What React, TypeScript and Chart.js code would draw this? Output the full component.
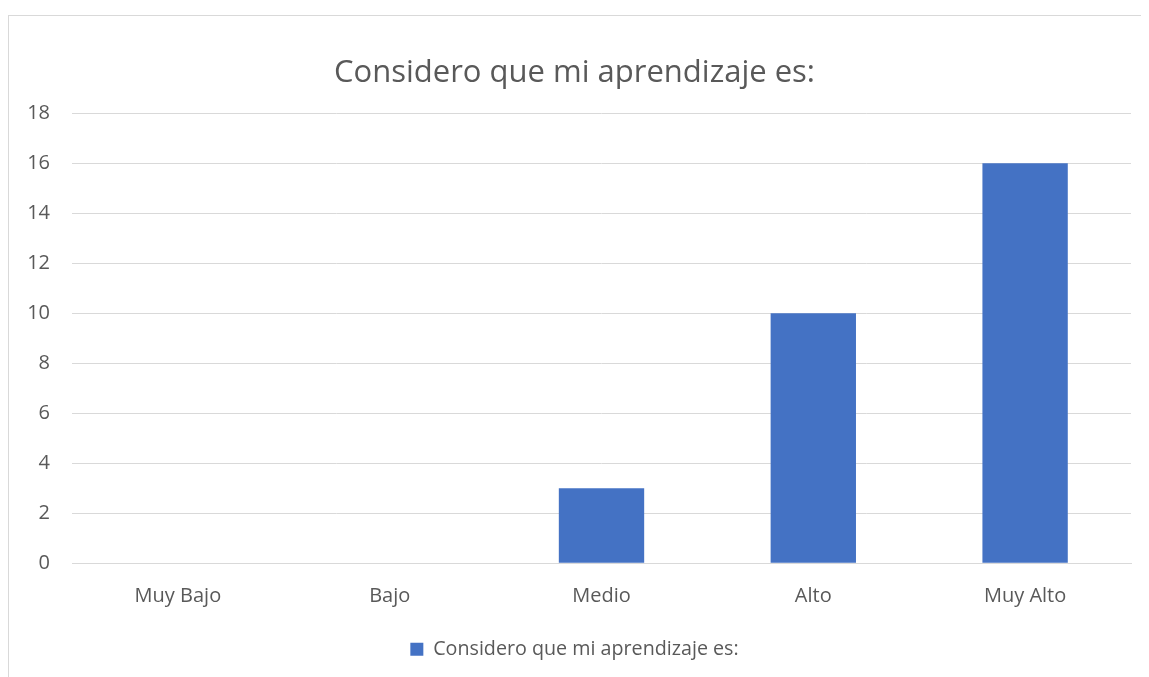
import React, { useEffect, useRef } from "react";
import { Chart, registerables } from "chart.js";

Chart.register(...registerables);

const categories = ["Muy Bajo", "Bajo", "Medio", "Alto", "Muy Alto"];
const seriesName = "Considero que mi aprendizaje es:";
const values = [0, 0, 3, 10, 16];
const titleText = "Considero que mi aprendizaje es:";
const yMin = 0;
const yMax = 18;
const yStep = 2;

const FONT = "'Open Sans', sans-serif";

export default function App() {
  const ref = useRef<HTMLCanvasElement | null>(null);
  useEffect(() => {
    if (!ref.current) return;
    const chart = new Chart(ref.current, {
      type: "bar",
      data: {
        labels: categories,
        datasets: [
          {
            label: seriesName,
            data: values,
            backgroundColor: "#4472C4",
            borderWidth: 0,
            categoryPercentage: 1,
            barPercentage: 0.403,
          },
        ],
      },
      options: {
        animation: false,
        responsive: false,
        maintainAspectRatio: false,
        layout: { padding: { left: 9, right: 18, top: 0, bottom: 8 } },
        plugins: {
          title: {
            display: true,
            text: titleText,
            color: "#595959",
            font: { family: FONT, size: 31, weight: "normal", lineHeight: 1.2 },
            padding: { top: 39, bottom: 21 },
          },
          legend: {
            display: true,
            position: "bottom",
            labels: {
              color: "#595959",
              font: { family: FONT, size: 19.7 },
              boxWidth: 13,
              boxHeight: 13,
              padding: 10,
            },
          },
          tooltip: { enabled: false },
        },
        scales: {
          x: {
            grid: { display: false, drawTicks: false },
            border: { display: true, color: "#d9d9d9", width: 1 },
            ticks: {
              color: "#595959",
              font: { family: FONT, size: 20 },
              padding: 21,
            },
            afterFit: (s: any) => {
              s.height = 66;
            },
          },
          y: {
            min: yMin,
            max: yMax,
            grid: { color: "#d9d9d9", lineWidth: 1, drawTicks: false },
            border: { display: false },
            ticks: {
              stepSize: yStep,
              color: "#595959",
              font: { family: FONT, size: 20 },
              padding: 22,
            },
            afterFit: (s: any) => {
              s.width = 54;
            },
          },
        },
      },
    });
    return () => chart.destroy();
  }, []);

  return (
    <div
      style={{
        marginTop: 7,
        width: 1140,
        height: 661,
        borderLeft: "1px solid #d9d9d9",
        borderTop: "1px solid #d9d9d9",
        background: "#fff",
      }}
    >
      <canvas ref={ref} width={1140} height={661} style={{ display: "block" }} />
    </div>
  );
}
